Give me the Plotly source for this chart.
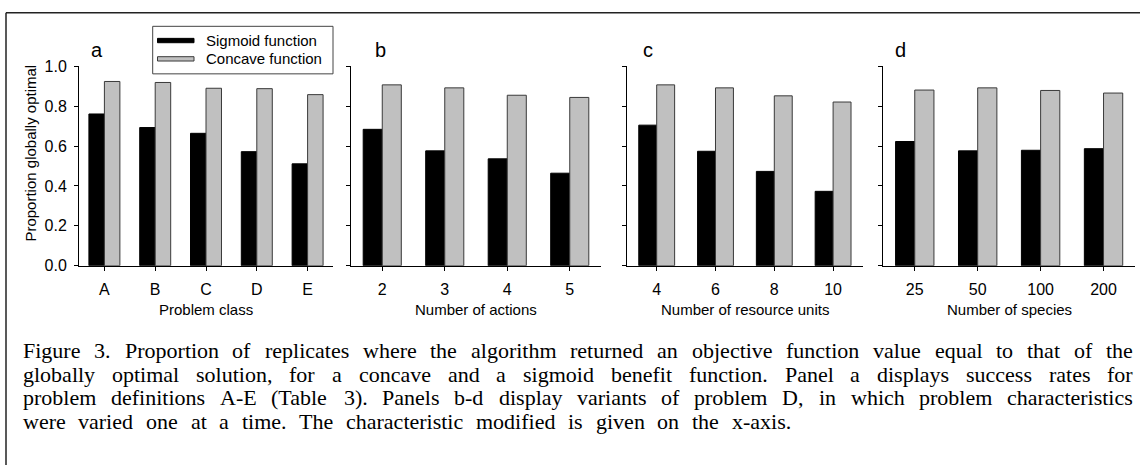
import plotly.graph_objects as go

# ---------------- data ----------------
categories_a = ["A", "B", "C", "D", "E"]
sigmoid_a = [0.761, 0.693, 0.664, 0.572, 0.511]
concave_a = [0.924, 0.919, 0.890, 0.888, 0.858]

categories_b = ["2", "3", "4", "5"]
sigmoid_b = [0.684, 0.576, 0.536, 0.464]
concave_b = [0.907, 0.892, 0.855, 0.844]

categories_c = ["4", "6", "8", "10"]
sigmoid_c = [0.705, 0.574, 0.473, 0.373]
concave_c = [0.907, 0.892, 0.852, 0.821]

categories_d = ["25", "50", "100", "200"]
sigmoid_d = [0.623, 0.576, 0.579, 0.587]
concave_d = [0.881, 0.892, 0.879, 0.866]

x_titles = ["Problem class", "Number of actions", "Number of resource units", "Number of species"]
panel_letters = ["a", "b", "c", "d"]
y_title = "Proportion globally optimal"
series_names = ["Sigmoid function", "Concave function"]
y_ticks = [0.0, 0.2, 0.4, 0.6, 0.8, 1.0]

caption_lines = [
    "Figure 3. Proportion of replicates where the algorithm returned an objective function value equal to that of the",
    "globally optimal solution, for a concave and a sigmoid benefit function. Panel a displays success rates for",
    "problem definitions A-E (Table 3). Panels b-d display variants of problem D, in which problem characteristics",
    "were varied one at a time. The characteristic modified is given on the x-axis.",
]

# ---------------- layout helpers ----------------
W, H = 1140, 474


def fx(p):
    return p / W


def fy(p):
    return 1 - p / H


SANS = "Liberation Sans, Arial, sans-serif"
SERIF = "Liberation Serif, Times New Roman, serif"
BLACK = "#000000"
GRAY = "#c0c0c0"

Y_TOP, Y_BOT = 60.5, 267.3
panel_x = [(79, 333), (351, 601), (627.3, 862.5), (883.3, 1135)]
letter_x = [89, 372.5, 641, 893]

panels = [
    (categories_a, sigmoid_a, concave_a),
    (categories_b, sigmoid_b, concave_b),
    (categories_c, sigmoid_c, concave_c),
    (categories_d, sigmoid_d, concave_d),
]

fig = go.Figure()
annotations = []
shapes = []

for i, (cats, sig, con) in enumerate(panels):
    n = "" if i == 0 else str(i + 1)
    fig.add_trace(go.Bar(
        x=cats, y=sig, name=series_names[0],
        marker=dict(color=BLACK, line=dict(color=BLACK, width=1)),
        xaxis="x" + n, yaxis="y" + n, showlegend=False,
    ))
    fig.add_trace(go.Bar(
        x=cats, y=con, name=series_names[1],
        marker=dict(color=GRAY, line=dict(color="#3a3a3a", width=1)),
        xaxis="x" + n, yaxis="y" + n, showlegend=False,
    ))
    x0, x1 = panel_x[i]
    fig.layout["xaxis" + n] = dict(
        domain=[fx(x0), fx(x1)], anchor="y" + n, type="category",
        range=[-0.5, len(cats) - 0.5], showline=True, linecolor=BLACK, linewidth=1,
        ticks="outside", ticklen=4, tickwidth=1, tickcolor=BLACK,
        tickfont=dict(family=SANS, size=16, color=BLACK),
        showgrid=False, zeroline=False, ticklabelstandoff=5, fixedrange=True,
    )
    fig.layout["yaxis" + n] = dict(
        domain=[fy(Y_BOT), fy(Y_TOP)], anchor="x" + n, range=[0, 1.0],
        tickvals=y_ticks, tickformat=".1f", showticklabels=(i == 0),
        showline=True, linecolor=BLACK, linewidth=1,
        ticks="outside", ticklen=4, tickwidth=1, tickcolor=BLACK,
        tickfont=dict(family=SANS, size=16, color=BLACK),
        showgrid=False, zeroline=False, ticklabelstandoff=4, fixedrange=True,
    )
    annotations.append(dict(
        text=x_titles[i], x=fx((x0 + x1) / 2), y=fy(313), xref="paper", yref="paper",
        xanchor="center", yanchor="middle", showarrow=False,
        font=dict(family=SANS, size=15, color=BLACK),
    ))
    annotations.append(dict(
        text=panel_letters[i], x=fx(letter_x[i]), y=fy(44), xref="paper", yref="paper",
        xanchor="left", yanchor="middle", showarrow=False,
        font=dict(family=SANS, size=20, color=BLACK),
    ))

# y-axis title
annotations.append(dict(
    text=y_title, x=fx(31), y=fy(151), xref="paper", yref="paper", textangle=-90,
    xanchor="center", yanchor="middle", showarrow=False,
    font=dict(family=SANS, size=15, color=BLACK),
))

# legend (drawn box with swatches)
shapes.append(dict(type="rect", xref="paper", yref="paper", x0=fx(152.7), x1=fx(333),
                   y0=fy(68.3), y1=fy(19), line=dict(color="#444", width=1),
                   fillcolor="white", layer="above"))
shapes.append(dict(type="rect", xref="paper", yref="paper", x0=fx(157.5), x1=fx(194),
                   y0=fy(36), y1=fy(31.5), line=dict(color=BLACK, width=1),
                   fillcolor=BLACK, layer="above"))
shapes.append(dict(type="rect", xref="paper", yref="paper", x0=fx(157.5), x1=fx(194),
                   y0=fy(55), y1=fy(50.5), line=dict(color="#3a3a3a", width=1),
                   fillcolor=GRAY, layer="above"))
for j, (nm, yy) in enumerate(zip(series_names, [33.5, 52.5])):
    annotations.append(dict(
        text=nm, x=fx(204), y=fy(yy), xref="paper", yref="paper",
        xanchor="left", yanchor="middle", showarrow=False,
        font=dict(family=SANS, size=15, color=BLACK),
    ))

# outer frame (left and top edges)
shapes.append(dict(type="line", xref="paper", yref="paper", x0=fx(6), x1=fx(6),
                   y0=0, y1=fy(5), line=dict(color="#222", width=1.5), layer="above"))
shapes.append(dict(type="line", xref="paper", yref="paper", x0=fx(6), x1=1,
                   y0=fy(5), y1=fy(5), line=dict(color="#222", width=1.5), layer="above"))

# caption: justified, word by word (Times metrics)
TW = {
    'a': 444, 'b': 500, 'c': 444, 'd': 500, 'e': 444, 'f': 333, 'g': 500, 'h': 500,
    'i': 278, 'j': 278, 'k': 500, 'l': 278, 'm': 778, 'n': 500, 'o': 500, 'p': 500,
    'q': 500, 'r': 333, 's': 389, 't': 278, 'u': 500, 'v': 500, 'w': 722, 'x': 500,
    'y': 500, 'z': 444, 'A': 722, 'B': 667, 'C': 667, 'D': 722, 'E': 611, 'F': 556,
    'P': 556, 'T': 611, '.': 250, ',': 250, '-': 333, '(': 333, ')': 333, ' ': 250,
}
CAP_SIZE = 22
cap_left = 22
cap_right = [1132, 1132, 1132, 790]
cap_y = [355.5, 380, 404.5, 429]


def word_w(s):
    return sum(TW.get(c, 500) for c in s) / 1000 * CAP_SIZE


for line, right, yy in zip(caption_lines, cap_right, cap_y):
    words = line.split(" ")
    widths = [word_w(w) for w in words]
    gap = (right - cap_left - sum(widths)) / (len(words) - 1)
    pos = cap_left
    for w, wd in zip(words, widths):
        annotations.append(dict(
            text=w, x=fx(pos), y=fy(yy), xref="paper", yref="paper",
            xanchor="left", yanchor="middle", showarrow=False, borderpad=0,
            font=dict(family=SERIF, size=CAP_SIZE, color=BLACK),
        ))
        pos += wd + gap

fig.update_layout(
    width=W, height=H, margin=dict(l=0, r=0, t=0, b=0),
    paper_bgcolor="white", plot_bgcolor="white",
    barmode="group", bargap=0.39, bargroupgap=0,
    showlegend=False, annotations=annotations, shapes=shapes,
)

fig.write_html(
    "out.html",
    config={"displayModeBar": False},
    post_script="document.body.style.margin='0';document.body.style.padding='0';",
)
